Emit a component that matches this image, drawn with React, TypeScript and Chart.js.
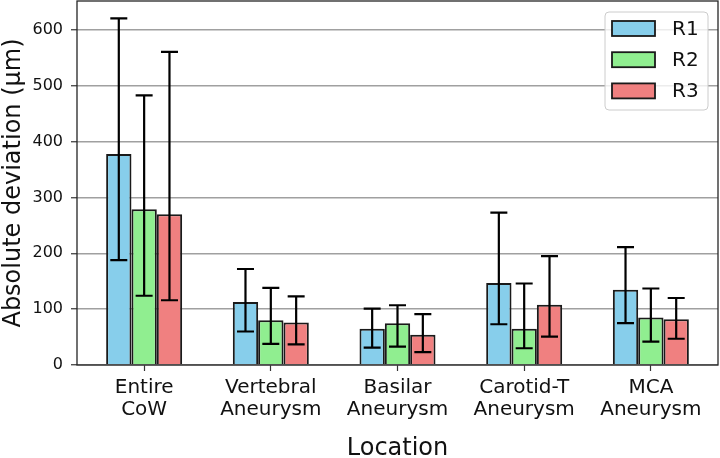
import React, { useEffect, useRef } from "react";
import { Chart, registerables } from "chart.js";

Chart.register(...registerables);

// Locations on the x axis (each entry is one multi-line tick label)
const CATEGORIES: string[][] = [
  ["Entire", "CoW"],
  ["Vertebral", "Aneurysm"],
  ["Basilar", "Aneurysm"],
  ["Carotid-T", "Aneurysm"],
  ["MCA", "Aneurysm"],
];

const SERIES_NAMES = ["R1", "R2", "R3"];
const SERIES_COLORS = ["#87CEEB", "#90EE90", "#F08080"];

// Mean absolute deviation (µm)
const R1_VALUES = [378, 113, 65, 147, 135];
const R2_VALUES = [279, 80, 75, 65, 85];
const R3_VALUES = [270, 76, 54, 108, 82];

// Error-bar extents (µm)
const R1_LOW = [188, 60, 31, 73, 75];
const R1_HIGH = [621, 172, 101, 273, 211];
const R2_LOW = [124, 38, 33, 30, 42];
const R2_HIGH = [483, 138, 107, 146, 137];
const R3_LOW = [116, 37, 23, 51, 47];
const R3_HIGH = [561, 123, 91, 195, 120];

const Y_TICKS = [0, 100, 200, 300, 400, 500, 600];
const Y_MAX = 652;
const X_MIN = -0.53;
const X_MAX = 4.53;

const FONT = "'DejaVu Sans', Verdana, sans-serif";

const VALUES = [R1_VALUES, R2_VALUES, R3_VALUES];
const LOWS = [R1_LOW, R2_LOW, R3_LOW];
const HIGHS = [R1_HIGH, R2_HIGH, R3_HIGH];

const errorBarPlugin = {
  id: "errorBars",
  afterDatasetsDraw(chart: any) {
    const ctx = chart.ctx;
    const yScale = chart.scales.y;
    ctx.save();
    ctx.strokeStyle = "#000";
    ctx.lineWidth = 2.2;
    chart.data.datasets.forEach((ds: any, i: number) => {
      const meta = chart.getDatasetMeta(i);
      meta.data.forEach((bar: any, j: number) => {
        const x = bar.x;
        const yLo = yScale.getPixelForValue(ds.errLow[j]);
        const yHi = yScale.getPixelForValue(ds.errHigh[j]);
        const cap = 8.5;
        ctx.beginPath();
        ctx.moveTo(x, yLo);
        ctx.lineTo(x, yHi);
        ctx.moveTo(x - cap, yLo);
        ctx.lineTo(x + cap, yLo);
        ctx.moveTo(x - cap, yHi);
        ctx.lineTo(x + cap, yHi);
        ctx.stroke();
      });
    });
    ctx.restore();
  },
};

const framePlugin = {
  id: "frameAndLegend",
  afterDraw(chart: any) {
    const ctx = chart.ctx;
    const a = chart.chartArea;
    ctx.save();
    // axes frame
    ctx.strokeStyle = "#262626";
    ctx.lineWidth = 1.3;
    ctx.strokeRect(a.left, a.top, a.right - a.left, a.bottom - a.top);

    // legend box in the upper right corner
    const bx = 605, by = 12, bw = 103, bh = 98, r = 4;
    ctx.beginPath();
    ctx.moveTo(bx + r, by);
    ctx.lineTo(bx + bw - r, by);
    ctx.quadraticCurveTo(bx + bw, by, bx + bw, by + r);
    ctx.lineTo(bx + bw, by + bh - r);
    ctx.quadraticCurveTo(bx + bw, by + bh, bx + bw - r, by + bh);
    ctx.lineTo(bx + r, by + bh);
    ctx.quadraticCurveTo(bx, by + bh, bx, by + bh - r);
    ctx.lineTo(bx, by + r);
    ctx.quadraticCurveTo(bx, by, bx + r, by);
    ctx.closePath();
    ctx.fillStyle = "rgba(255,255,255,0.8)";
    ctx.fill();
    ctx.strokeStyle = "#cccccc";
    ctx.lineWidth = 1;
    ctx.stroke();

    ctx.font = `20px ${FONT}`;
    ctx.textBaseline = "middle";
    ctx.textAlign = "left";
    chart.data.datasets.forEach((ds: any, i: number) => {
      const cy = 28.5 + i * 31.2;
      ctx.fillStyle = ds.backgroundColor;
      ctx.fillRect(612, cy - 7.5, 43, 15);
      ctx.strokeStyle = "#1a1a1a";
      ctx.lineWidth = 1.8;
      ctx.strokeRect(612, cy - 7.5, 43, 15);
      ctx.fillStyle = "#111";
      ctx.fillText(ds.label, 672, cy + 1);
    });
    ctx.restore();
  },
};

export default function App() {
  const canvasRef = useRef<HTMLCanvasElement | null>(null);

  useEffect(() => {
    if (!canvasRef.current) return;
    const datasets = SERIES_NAMES.map((name, i) => ({
      label: name,
      data: VALUES[i].map((v, j) => ({ x: j, y: v })),
      errLow: LOWS[i],
      errHigh: HIGHS[i],
      backgroundColor: SERIES_COLORS[i],
      borderColor: "#1a1a1a",
      borderWidth: 2,
      categoryPercentage: 0.6,
      barPercentage: 1.0,
    }));

    const chart = new Chart(canvasRef.current, {
      type: "bar",
      data: { datasets } as any,
      options: {
        animation: false,
        responsive: false,
        devicePixelRatio: 1,
        layout: { padding: { top: 1, right: 2, left: 0, bottom: 0 } },
        plugins: {
          legend: { display: false },
          tooltip: { enabled: false },
        },
        scales: {
          x: {
            type: "linear",
            min: X_MIN,
            max: X_MAX,
            offset: false,
            afterBuildTicks: (scale: any) => {
              scale.ticks = CATEGORIES.map((_, i) => ({ value: i }));
            },
            afterFit: (scale: any) => {
              scale.height = 93;
              scale.paddingLeft = 0;
              scale.paddingRight = 0;
            },
            grid: {
              display: true,
              offset: false,
              drawOnChartArea: false,
              tickLength: 6,
              tickColor: "#333",
              tickWidth: 1.2,
            },
            border: { display: false },
            ticks: {
              autoSkip: false,
              maxRotation: 0,
              padding: 5,
              color: "#111",
              font: { family: FONT, size: 20, lineHeight: 1.13 },
              callback: (value: any) => CATEGORIES[Math.round(value)] ?? "",
            },
            title: {
              display: true,
              text: "Location",
              color: "#111",
              padding: 0,
              font: { family: FONT, size: 24, lineHeight: 0.8 },
            },
          },
          y: {
            type: "linear",
            min: 0,
            max: Y_MAX,
            afterBuildTicks: (scale: any) => {
              scale.ticks = Y_TICKS.map((v) => ({ value: v }));
            },
            afterFit: (scale: any) => {
              scale.width = 77;
              scale.paddingTop = 0;
              scale.paddingBottom = 0;
            },
            grid: {
              color: "#a0a0a0",
              lineWidth: 1.5,
              tickLength: 6,
              tickColor: "#333",
              tickWidth: 1.2,
            },
            border: { display: false },
            ticks: {
              padding: 8,
              color: "#111",
              font: { family: FONT, size: 16 },
            },
            title: {
              display: true,
              text: "Absolute deviation (µm)",
              color: "#111",
              padding: 0,
              font: { family: FONT, size: 24, lineHeight: 1.15 },
            },
          },
        },
      } as any,
      plugins: [errorBarPlugin, framePlugin],
    });

    return () => chart.destroy();
  }, []);

  return (
    <div style={{ position: "absolute", left: 0, top: 0, width: 720, height: 458, background: "#fff" }}>
      <canvas ref={canvasRef} width={720} height={458} style={{ display: "block", width: 720, height: 458 }} />
    </div>
  );
}
